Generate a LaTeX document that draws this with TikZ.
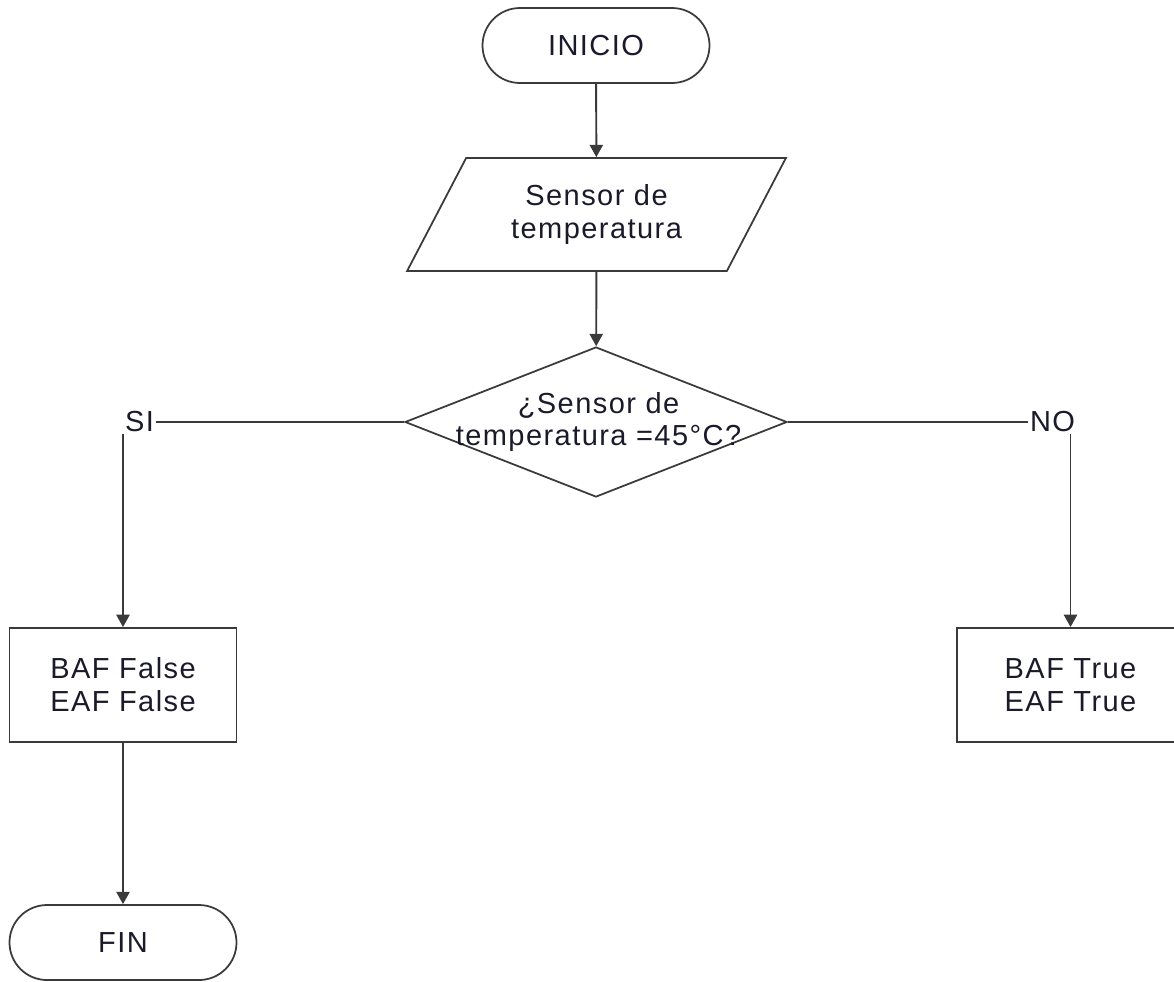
\documentclass[tikz,border=0pt]{standalone}
\usepackage{fontspec}
\setmainfont{Liberation Sans}[LetterSpace=5]
\usetikzlibrary{arrows.meta, positioning, shapes.geometric, calc}
\definecolor{fcline}{HTML}{3A3A3A}
\definecolor{fctext}{HTML}{1A1A2A}

\begin{document}
\begin{tikzpicture}[
  every node/.style={font=\fontsize{16.5}{18.7}\selectfont, text=fctext},
  termbox/.style={rectangle, rounded corners=0.75cm, minimum width=4.54cm, minimum height=1.5cm, draw=fcline, line width=1pt, align=center},
  iobox/.style={trapezium, trapezium left angle=60, trapezium right angle=120, trapezium stretches=true, minimum width=7.58cm, minimum height=2.26cm, draw=fcline, line width=1pt, align=center},
  decbox/.style={diamond, minimum width=7.64cm, minimum height=3.0cm, inner sep=0pt, draw=fcline, line width=1pt},
  procbox/.style={rectangle, minimum width=4.54cm, minimum height=2.28cm, draw=fcline, line width=1.1pt, align=center},
  flow/.style={draw=fcline, line width=1.1pt, -{Triangle[length=7pt, width=7.5pt]}},
  plain/.style={draw=fcline, line width=1.1pt},
]
\useasboundingbox (0, 0) rectangle (23.48, -19.62);

\node[termbox] (inicio) at (11.92, -0.91) {INICIO};
\node[iobox] (sensor) at (11.93, -4.29) {Sensor de\\temperatura};
\node[decbox] (cond) at (11.92, -8.44) {};
\node[align=center, inner sep=0pt] (condtxt) at (11.97, -8.44) {¿Sensor de\\temperatura =45°C?};
\node[anchor=west, inner sep=1pt] (si) at (2.46, -8.44) {SI};
\node[inner sep=1pt] (no) at (21.05, -8.44) {NO};
\node[procbox] (bafF) at (2.46, -13.7) {BAF False\\EAF False};
\node[procbox] (bafT) at (21.41, -13.7) {BAF True\\EAF True};
\node[termbox] (fin) at (2.46, -18.85) {FIN};

\draw[flow] (inicio) -- (sensor);
\draw[flow] (sensor) -- (cond);
\draw[plain] (cond.west) -- (si.east);
\draw[plain] (cond.east) -- (no.west);
\draw[flow] (bafF.north |- si.south) -- (bafF.north);
\draw[flow] (bafT.north |- no.south) -- (bafT.north);
\draw[flow] (bafF) -- (fin);
\end{tikzpicture}
\end{document}
